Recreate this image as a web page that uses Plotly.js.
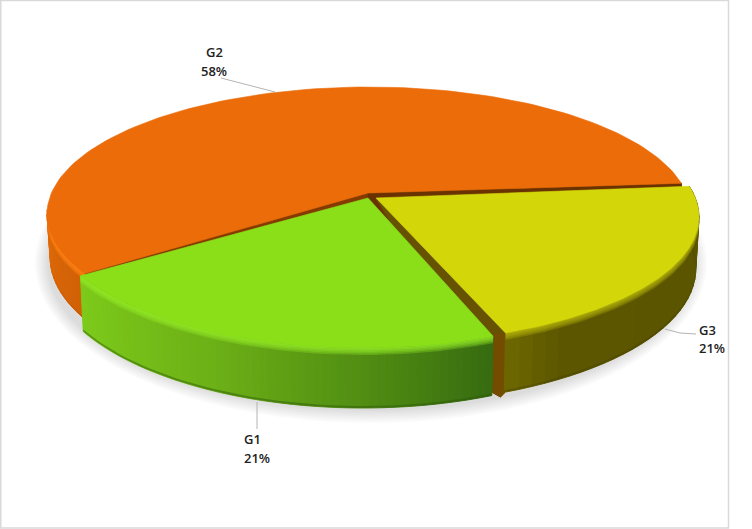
<!DOCTYPE html>
<html>
<head>
<meta charset="utf-8">
<script src="https://cdn.plot.ly/plotly-3.0.1.min.js"></script>
<style>html,body{margin:0;padding:0;background:#fff}#chart{width:752px;height:529px}</style>
</head>
<body>
<div id="chart"></div>
<script>
// ---- data ----
const categories = ['G1', 'G2', 'G3'];
const values = [21, 58, 21];
const percentLabels = ['21%', '58%', '21%'];

// ---- view settings ----
const START_ANGLE = 160;          // where G1 starts, clockwise from the back of the pie
const WARP_AMP = 8.62, WARP_AXIS = 187.6; // foreshortening of the tilted pie
const rad = d => d * Math.PI / 180;
const warp = th => th + WARP_AMP * Math.sin(rad(th - WARP_AXIS));

const views = {
  G1: {cx:363, cy:212, a:320, b:136, ax:368, ay:198, d0:52, top:'#8ADF18', bevel:'rgba(150,235,40,0.30)',
       wall:[[0,[55,107,16]],[0.25,[78,138,18]],[0.6,[108,176,22]],[1,[126,203,26]]], rim:'rgba(45,85,10,0.45)'},
  G2: {cx:369, cy:214, a:322, b:127, ax:368, ay:193, d0:44, top:'#EB6C08', bevel:'rgba(255,130,20,0.38)',
       wall:[[0,[208,96,6]],[1,[224,106,8]]], rim:'rgba(170,75,0,0.2)'},
  G3: {cx:373, cy:217, a:326, b:127, ax:376, ay:198, d0:52, top:'#D3D70A', bevel:'rgba(190,190,10,0.26)',
       wall:[[0,[90,84,0]],[0.86,[92,86,0]],[1,[110,104,0]]], rim:'rgba(60,55,0,0.3)'}
};

// ---- geometry ----
function topPt(g, t){ return [g.cx + g.a*Math.sin(rad(t)), g.cy - g.b*Math.cos(rad(t))]; }
function botPt(g, t){ return [g.cx + 0.99*g.a*Math.sin(rad(t)), g.cy - g.b*Math.cos(rad(t)) + g.d0 - 8*Math.cos(rad(t))]; }
function lerpStops(stops, f){
  for (let i=1;i<stops.length;i++){
    if (f<=stops[i][0]){
      const p=stops[i-1], q=stops[i], k=(f-p[0])/(q[0]-p[0]);
      return 'rgb('+p[1].map((c,j)=>Math.round(c+(q[1][j]-c)*k)).join(',')+')';
    }
  }
  const l=stops[stops.length-1][1]; return 'rgb('+l.join(',')+')';
}
const traces = [];
function poly(pts, fill, lw){
  traces.push({type:'scatter', mode:'lines', x:pts.map(p=>p[0]).concat(pts[0][0]), y:pts.map(p=>p[1]).concat(pts[0][1]),
    fill:'toself', fillcolor:fill, line:{color:lw===0?'rgba(0,0,0,0)':fill, width:lw===undefined?1:lw},
    hoverinfo:'skip', showlegend:false});
}
function range(t0,t1,n){ const r=[]; for(let i=0;i<=n;i++) r.push(t0+(t1-t0)*i/n); return r; }
function wall(g,t0,t1,n){
  for(let i=0;i<n;i++){
    const a=t0+(t1-t0)*i/n, b=t0+(t1-t0)*(i+1)/n;
    poly([topPt(g,a),topPt(g,b),botPt(g,b),botPt(g,a)], lerpStops(g.wall,(i+0.5)/n));
  }
}
function bands(g,t0,t1){
  const ts=range(t0,t1,50);
  [7,5.5,4,2.5,1.2].forEach(h=>{
    const up=ts.map(t=>topPt(g,t)), low=ts.map(t=>{const p=topPt(g,t);return [p[0],p[1]+h];}).reverse();
    poly(up.concat(low), g.bevel, 0);
  });
  const low=ts.map(t=>botPt(g,t));
  poly(low.concat(low.map(p=>[p[0],p[1]-2]).reverse()), g.rim, 0);
}
function topFace(g,t0,t1){
  const pts=[[g.ax,g.ay]].concat(range(t0,t1,120).map(t=>topPt(g,t)));
  poly(pts,g.top,0.6);
}

// slice angles come from the values
const total = values.reduce((s,v)=>s+v,0);
let acc = START_ANGLE;
const spans = {};
categories.forEach((c,i)=>{ const e=acc+values[i]/total*360; spans[c]=[warp(acc),warp(e)]; acc=e; });
// spans run clockwise; G3 wraps past 360 so bring it back
const sG1=spans.G1, sG2=spans.G2, sG3=[spans.G3[0]-360, spans.G3[1]-360];

// soft shadow under the pie
const shadowTs=range(0,360,90);
[2,4,6,8,10,12,14].forEach(r=>{
  poly(shadowTs.map(t=>[371+(322+r)*Math.sin(rad(t)), 263+(146+r)*-Math.cos(rad(t))]), 'rgba(0,0,0,0.02)', 0);
});

// G2 (back): cut faces, wall, top
const o=views.G2;
const oL=topPt(o,sG2[0]), oR=topPt(o,sG2[1]);
poly([[o.ax,o.ay],oL,[oL[0],oL[1]+48],[o.ax,o.ay+48]],'#853A00');
poly([[o.ax,o.ay],oR,[oR[0],oR[1]+48],[o.ax,o.ay+48]],'#6A3200');
wall(o,sG2[0],272,14);
bands(o,sG2[0],272);
topFace(o,sG2[0],sG2[1]);

// G3 (right): cut face, wall, top
const y3=views.G3;
const yC=topPt(y3,sG3[1]);
poly([[y3.ax,y3.ay],yC,[yC[0]-5,yC[1]+64],[yC[0]-16,yC[1]+58]],'#665200');
poly([yC,[yC[0]-1,yC[1]+60],[yC[0]-5,yC[1]+64],[yC[0]-12,yC[1]+60],[yC[0]-12,yC[1]+2]],'#744C00');
wall(y3,sG3[0],sG3[1],30);
bands(y3,sG3[0],sG3[1]);
topFace(y3,sG3[0],sG3[1]);

// G1 (front): wall, top
const g1=views.G1;
wall(g1,sG1[0],sG1[1],60);
bands(g1,sG1[0],sG1[1]);
topFace(g1,sG1[0],sG1[1]);

// label leader lines
const leaderG1X=[257,257], leaderG1Y=[402,429];
const leaderG2X=[221,275], leaderG2Y=[78,92];
const leaderG3X=[665,680,696], leaderG3Y=[329,333,334];
[[leaderG1X,leaderG1Y],[leaderG2X,leaderG2Y],[leaderG3X,leaderG3Y]].forEach(l=>{
  traces.push({type:'scatter',mode:'lines',x:l[0],y:l[1],line:{color:'#b4b4b4',width:1},hoverinfo:'skip',showlegend:false});
});

// labels
const labelFont={family:'"Open Sans", sans-serif',size:13,color:'#222222',weight:600};
const labelPos={G1:{x:244,y1:439,y2:458,anchor:'left'},G2:{x:214,y1:52,y2:71,anchor:'center'},G3:{x:699,y1:330,y2:348,anchor:'left'}};
const annotations=[];
categories.forEach((c,i)=>{
  const p=labelPos[c];
  [[c,p.y1],[percentLabels[i],p.y2]].forEach(a=>{
    annotations.push({xref:'x',yref:'y',x:p.x,y:a[1],text:a[0],showarrow:false,xanchor:p.anchor,yanchor:'middle',font:labelFont,borderpad:0,borderwidth:0});
  });
});

Plotly.newPlot('chart',traces,{
  width:752,height:529,margin:{l:0,r:0,t:0,b:0},
  paper_bgcolor:'#ffffff',plot_bgcolor:'#ffffff',showlegend:false,
  xaxis:{range:[0,752],visible:false,fixedrange:true},
  yaxis:{range:[529,0],visible:false,fixedrange:true},
  annotations:annotations,
  shapes:[{type:'rect',xref:'x',yref:'y',x0:0.8,y0:0.5,x1:728.5,y1:528,line:{color:'#d9d9d9',width:1.5},layer:'below'}]
},{displayModeBar:false,staticPlot:true});
</script>
</body>
</html>
